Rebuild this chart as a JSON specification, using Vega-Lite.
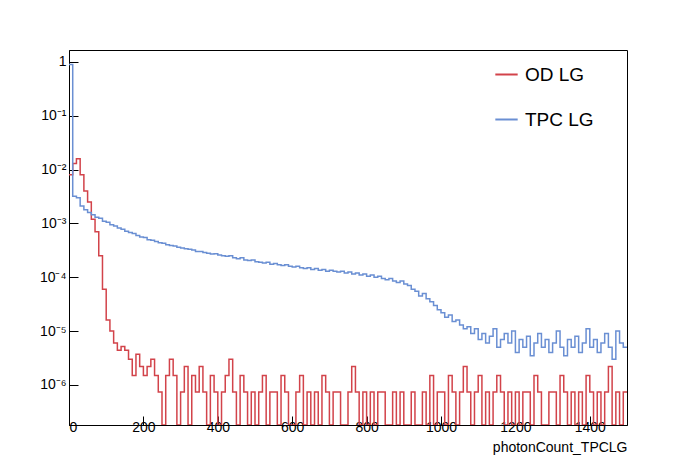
{
  "$schema": "https://vega.github.io/schema/vega-lite/v6.json",
  "width": 558,
  "height": 375,
  "autosize": "none",
  "padding": {"left": 69, "top": 50, "right": 69, "bottom": 47},
  "config": {
    "font": "Liberation Sans",
    "view": {"stroke": "black", "strokeWidth": 1},
    "axis": {"grid": false, "domainColor": "black", "tickColor": "black", "labelColor": "black", "labelFontSize": 14, "tickSize": -9, "labelPadding": 12}
  },
  "data": {"values": [
    {"x":0,"od":8e-3,"tpc":0.9},{"x":10,"od":1.3e-2,"tpc":3.2e-3},{"x":20,"od":1.6e-2,"tpc":3.0e-3},{"x":30,"od":8e-3,"tpc":2.1e-3},{"x":40,"od":4e-3,"tpc":1.8e-3},
    {"x":50,"od":2.5e-3,"tpc":1.6e-3},{"x":60,"od":1.2e-3,"tpc":1.45e-3},{"x":70,"od":7e-4,"tpc":1.3e-3},{"x":80,"od":2.5e-4,"tpc":1.25e-3},{"x":90,"od":6e-5,"tpc":1.1e-3},
    {"x":100,"od":1.6e-5,"tpc":1.05e-3},{"x":110,"od":1.0e-5,"tpc":9.5e-4},{"x":120,"od":6e-6,"tpc":9e-4},{"x":130,"od":4.4e-6,"tpc":8.2e-4},{"x":140,"od":5.2e-6,"tpc":7.8e-4},
    {"x":150,"od":4.4e-6,"tpc":7.2e-4},{"x":160,"od":3e-6,"tpc":6.8e-4},{"x":170,"od":1.5e-6,"tpc":6.5e-4},{"x":180,"od":3.7e-6,"tpc":6e-4},{"x":190,"od":2.2e-6,"tpc":5.6e-4},
    {"x":200,"od":1.5e-6,"tpc":5.5e-4},{"x":210,"od":2.2e-6,"tpc":5.0e-4},{"x":220,"od":3e-6,"tpc":4.9e-4},{"x":230,"od":1.5e-6,"tpc":4.6e-4},{"x":240,"od":7.4e-7,"tpc":4.4e-4},
    {"x":250,"od":1e-7,"tpc":4.3e-4},{"x":260,"od":1.5e-6,"tpc":4.0e-4},{"x":270,"od":3e-6,"tpc":3.9e-4},{"x":280,"od":1.5e-6,"tpc":3.8e-4},{"x":290,"od":1e-7,"tpc":3.6e-4},
    {"x":300,"od":7.4e-7,"tpc":3.5e-4},{"x":310,"od":2.2e-6,"tpc":3.4e-4},{"x":320,"od":1e-7,"tpc":3.3e-4},{"x":330,"od":1.5e-6,"tpc":3.2e-4},{"x":340,"od":7.4e-7,"tpc":3.0e-4},
    {"x":350,"od":2.2e-6,"tpc":3.0e-4},{"x":360,"od":7.4e-7,"tpc":2.9e-4},{"x":370,"od":1e-7,"tpc":2.8e-4},{"x":380,"od":1.5e-6,"tpc":2.7e-4},{"x":390,"od":7.4e-7,"tpc":2.75e-4},
    {"x":400,"od":1e-7,"tpc":2.6e-4},{"x":410,"od":7.4e-7,"tpc":2.5e-4},{"x":420,"od":1.5e-6,"tpc":2.45e-4},{"x":430,"od":3e-6,"tpc":2.5e-4},{"x":440,"od":7.4e-7,"tpc":2.3e-4},
    {"x":450,"od":1e-7,"tpc":2.2e-4},{"x":460,"od":1.5e-6,"tpc":2.3e-4},{"x":470,"od":7.4e-7,"tpc":2.1e-4},{"x":480,"od":1e-7,"tpc":2.05e-4},{"x":490,"od":7.4e-7,"tpc":2.1e-4},
    {"x":500,"od":1e-7,"tpc":1.95e-4},{"x":510,"od":7.4e-7,"tpc":1.9e-4},{"x":520,"od":1.5e-6,"tpc":1.85e-4},{"x":530,"od":1e-7,"tpc":1.9e-4},{"x":540,"od":7.4e-7,"tpc":1.75e-4},
    {"x":550,"od":7.4e-7,"tpc":1.8e-4},{"x":560,"od":1e-7,"tpc":1.7e-4},{"x":570,"od":1.5e-6,"tpc":1.65e-4},{"x":580,"od":7.4e-7,"tpc":1.7e-4},{"x":590,"od":1e-7,"tpc":1.6e-4},
    {"x":600,"od":1e-7,"tpc":1.55e-4},{"x":610,"od":7.4e-7,"tpc":1.6e-4},{"x":620,"od":1.5e-6,"tpc":1.5e-4},{"x":630,"od":1e-7,"tpc":1.45e-4},{"x":640,"od":7.4e-7,"tpc":1.5e-4},
    {"x":650,"od":1e-7,"tpc":1.4e-4},{"x":660,"od":7.4e-7,"tpc":1.45e-4},{"x":670,"od":1e-7,"tpc":1.35e-4},{"x":680,"od":1.5e-6,"tpc":1.4e-4},{"x":690,"od":7.4e-7,"tpc":1.3e-4},
    {"x":700,"od":1e-7,"tpc":1.35e-4},{"x":710,"od":7.4e-7,"tpc":1.3e-4},{"x":720,"od":7.4e-7,"tpc":1.25e-4},{"x":730,"od":1e-7,"tpc":1.3e-4},{"x":740,"od":1e-7,"tpc":1.2e-4},
    {"x":750,"od":7.4e-7,"tpc":1.25e-4},{"x":760,"od":2.2e-6,"tpc":1.15e-4},{"x":770,"od":7.4e-7,"tpc":1.2e-4},{"x":780,"od":1e-7,"tpc":1.1e-4},{"x":790,"od":7.4e-7,"tpc":1.15e-4},
    {"x":800,"od":1e-7,"tpc":1.05e-4},{"x":810,"od":7.4e-7,"tpc":1.1e-4},{"x":820,"od":1e-7,"tpc":1.0e-4},{"x":830,"od":7.4e-7,"tpc":1.05e-4},{"x":840,"od":7.4e-7,"tpc":9.5e-5},
    {"x":850,"od":1e-7,"tpc":9e-5},{"x":860,"od":1e-7,"tpc":9.5e-5},{"x":870,"od":7.4e-7,"tpc":8.5e-5},{"x":880,"od":1e-7,"tpc":8e-5},{"x":890,"od":7.4e-7,"tpc":8.5e-5},
    {"x":900,"od":1e-7,"tpc":7.5e-5},{"x":910,"od":1e-7,"tpc":7e-5},{"x":920,"od":7.4e-7,"tpc":6e-5},{"x":930,"od":1e-7,"tpc":5.5e-5},{"x":940,"od":1e-7,"tpc":4.5e-5},
    {"x":950,"od":7.4e-7,"tpc":5e-5},{"x":960,"od":1e-7,"tpc":4e-5},{"x":970,"od":1.5e-6,"tpc":3.5e-5},{"x":980,"od":1e-7,"tpc":3e-5},{"x":990,"od":7.4e-7,"tpc":2.5e-5},
    {"x":1000,"od":7.4e-7,"tpc":2.2e-5},{"x":1010,"od":1e-7,"tpc":1.8e-5},{"x":1020,"od":1.5e-6,"tpc":2e-5},{"x":1030,"od":7.4e-7,"tpc":1.5e-5},{"x":1040,"od":1e-7,"tpc":1.6e-5},
    {"x":1050,"od":7.4e-7,"tpc":1.3e-5},{"x":1060,"od":2.2e-6,"tpc":1.1e-5},{"x":1070,"od":7.4e-7,"tpc":1.2e-5},{"x":1080,"od":1e-7,"tpc":9e-6},{"x":1090,"od":7.4e-7,"tpc":1.1e-5},
    {"x":1100,"od":1.5e-6,"tpc":7e-6},{"x":1110,"od":1e-7,"tpc":9e-6},{"x":1120,"od":7.4e-7,"tpc":6e-6},{"x":1130,"od":1e-7,"tpc":8e-6},{"x":1140,"od":7.4e-7,"tpc":1.1e-5},
    {"x":1150,"od":1.5e-6,"tpc":5e-6},{"x":1160,"od":7.4e-7,"tpc":7e-6},{"x":1170,"od":1e-7,"tpc":9e-6},{"x":1180,"od":7.4e-7,"tpc":6e-6},{"x":1190,"od":1e-7,"tpc":1.0e-5},
    {"x":1200,"od":7.4e-7,"tpc":4e-6},{"x":1210,"od":1e-7,"tpc":7e-6},{"x":1220,"od":7.4e-7,"tpc":5e-6},{"x":1230,"od":7.4e-7,"tpc":8e-6},{"x":1240,"od":1e-7,"tpc":3.5e-6},
    {"x":1250,"od":1.5e-6,"tpc":6e-6},{"x":1260,"od":7.4e-7,"tpc":9e-6},{"x":1270,"od":1e-7,"tpc":5e-6},{"x":1280,"od":1e-7,"tpc":7e-6},{"x":1290,"od":7.4e-7,"tpc":4e-6},
    {"x":1300,"od":7.4e-7,"tpc":6e-6},{"x":1310,"od":1e-7,"tpc":1.0e-5},{"x":1320,"od":1.5e-6,"tpc":5e-6},{"x":1330,"od":7.4e-7,"tpc":3.5e-6},{"x":1340,"od":1e-7,"tpc":7e-6},
    {"x":1350,"od":7.4e-7,"tpc":5e-6},{"x":1360,"od":1e-7,"tpc":8e-6},{"x":1370,"od":7.4e-7,"tpc":4e-6},{"x":1380,"od":1e-7,"tpc":6e-6},{"x":1390,"od":1.5e-6,"tpc":1.1e-5},
    {"x":1400,"od":7.4e-7,"tpc":5e-6},{"x":1410,"od":1e-7,"tpc":7e-6},{"x":1420,"od":7.4e-7,"tpc":4e-6},{"x":1430,"od":1e-7,"tpc":6e-6},{"x":1440,"od":7.4e-7,"tpc":9e-6},
    {"x":1450,"od":2.2e-6,"tpc":5e-6},{"x":1460,"od":1e-7,"tpc":3e-6},{"x":1470,"od":7.4e-7,"tpc":1.0e-5},{"x":1480,"od":1e-7,"tpc":6e-6},{"x":1490,"od":7.4e-7,"tpc":5e-6},
    {"x":1500,"od":7.4e-7,"tpc":5e-6}
  ]},
  "transform": [
    {"fold": ["od", "tpc"], "as": ["series", "value"]},
    {"calculate": "datum.series == 'od' ? 'OD LG' : 'TPC LG'", "as": "label"}
  ],
  "mark": {"type": "line", "interpolate": "step-after", "strokeWidth": 1.5, "clip": true},
  "encoding": {
    "x": {"field": "x", "type": "quantitative", "scale": {"domain": [0, 1500], "nice": false},
      "axis": {"title": "photonCount_TPCLG", "titleAnchor": "end", "titleFontSize": 14, "titleFontWeight": "normal", "titlePadding": 6, "format": "d", "values": [0, 200, 400, 600, 800, 1000, 1200, 1400], "labelPadding": 4}},
    "y": {"field": "value", "type": "quantitative",
      "scale": {"type": "log", "domain": [1.8e-7, 1.67], "nice": false, "clamp": true},
      "axis": {"title": null, "values": [1e-6, 1e-5, 1e-4, 1e-3, 1e-2, 1e-1, 1],
        "labelExpr": "datum.value >= 0.99 ? '1' : '10⁻' + substring('⁰¹²³⁴⁵⁶⁷⁸⁹', -round(log(datum.value)/LN10), -round(log(datum.value)/LN10) + 1)"}},
    "color": {"field": "label", "type": "nominal",
      "scale": {"domain": ["OD LG", "TPC LG"], "range": ["#d2434a", "#6a8fd3"]},
      "legend": {"title": null, "orient": "none", "legendX": 425, "legendY": 12, "labelFontSize": 19, "symbolType": "stroke", "symbolSize": 500, "symbolStrokeWidth": 2, "rowPadding": 22, "labelOffset": 6}}
  }
}
